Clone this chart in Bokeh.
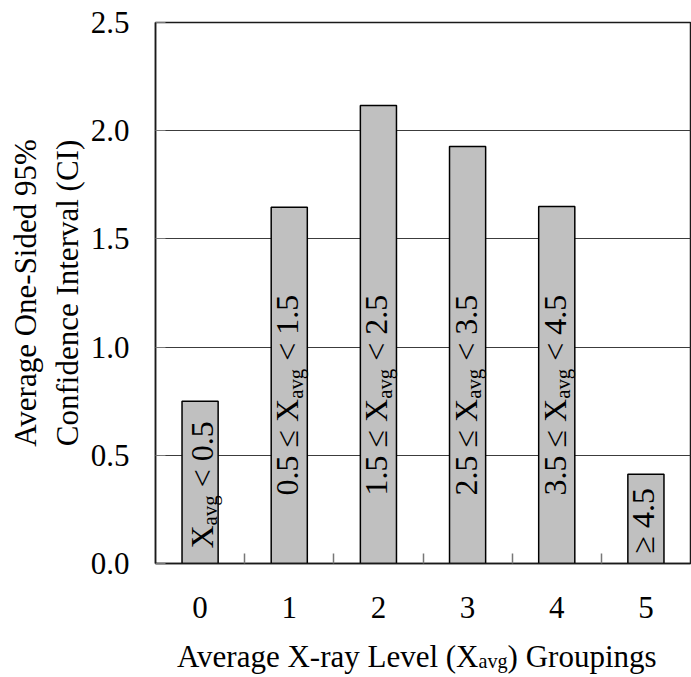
import math
from bokeh.plotting import figure
from bokeh.layouts import column
from bokeh.models import (ColumnDataSource, FixedTicker, LabelSet, Range1d,
                          PrintfTickFormatter)
from bokeh.embed import file_html
from bokeh.resources import INLINE
from bokeh.core.properties import value

# ---------------- data ----------------
groups = [0, 1, 2, 3, 4, 5]
x_tick_labels = ["0", "1", "2", "3", "4", "5"]
ci_values = [0.75, 1.646, 2.117, 1.927, 1.650, 0.413]
y_ticks = [0.0, 0.5, 1.0, 1.5, 2.0, 2.5]
bar_label_pre = ["X", "0.5 ≤ X", "1.5 ≤ X", "2.5 ≤ X", "3.5 ≤ X", "≥ 4.5"]
bar_label_sub = ["avg", "avg", "avg", "avg", "avg", ""]
bar_label_post = ["< 0.5", "< 1.5", "< 2.5", "< 3.5", "< 4.5", ""]
x_title_pre = "Average X-ray Level (X"
x_title_sub = "avg"
x_title_post = ") Groupings"
y_title = "Average One-Sided 95%\nConfidence Interval (CI)"

# ---------------- styling ----------------
FONT = "Liberation Serif"
TICK_PX = 31
BAR_PX = 32
SUB_RATIO = 0.65
TOTAL_W, TOTAL_H = 691, 677
TITLE_H = 47
BORDER_L, BORDER_R = 155, 1
# Times / Liberation Serif advance widths (per 1000 em)
W = {' ': 250, '.': 250, '<': 564, '≤': 549, '≥': 549, 'X': 722, 'a': 444, 'v': 500,
     'g': 500}
for d in "0123456789":
    W[d] = 500


def text_width(s, px):
    return sum(W.get(c, 500) for c in s) * px / 1000.0


label_start_px = [15, 68, 68, 68, 68, 10]   # distance of label start above bar base
label_shift_px = [12.5, 9, 9, 9, 9, 8]      # baseline shift right of bar centre

main_rows = dict(x=[], y=[], text=[], xo=[], yo=[])
sub_rows = dict(x=[], y=[], text=[], xo=[], yo=[])
sub_px = BAR_PX * SUB_RATIO
for i, g in enumerate(groups):
    start = label_start_px[i]
    pre = bar_label_pre[i]
    main_rows["x"].append(g); main_rows["y"].append(0)
    main_rows["text"].append(pre); main_rows["xo"].append(label_shift_px[i])
    main_rows["yo"].append(start)
    pos = start + text_width(pre, BAR_PX)
    if bar_label_sub[i]:
        sub_rows["x"].append(g); sub_rows["y"].append(0)
        sub_rows["text"].append(bar_label_sub[i])
        sub_rows["xo"].append(label_shift_px[i] + 4.5)
        sub_rows["yo"].append(pos)
        pos += text_width(bar_label_sub[i], sub_px)
    if bar_label_post[i]:
        pos += text_width(" ", BAR_PX)
        main_rows["x"].append(g); main_rows["y"].append(0)
        main_rows["text"].append(bar_label_post[i]); main_rows["xo"].append(label_shift_px[i])
        main_rows["yo"].append(pos)

main_h = TOTAL_H - TITLE_H
p = figure(width=TOTAL_W, height=main_h, output_backend="svg", toolbar_location=None,
           x_range=Range1d(-0.5, 5.5), y_range=Range1d(0, 2.5),
           min_border_left=BORDER_L, min_border_right=BORDER_R, min_border_top=22,
           min_border_bottom=main_h - 563)
p.background_fill_color = "white"
p.border_fill_color = "white"
p.outline_line_color = "#1a1a1a"
p.outline_line_width = 1.5

src = ColumnDataSource(dict(x=groups, top=ci_values))
p.vbar(x="x", top="top", bottom=0, width=0.405, source=src,
       fill_color="#c0c0c0", line_color="black", line_width=1.5)

# grid
p.xgrid.visible = False
p.ygrid.grid_line_color = "#3c3c3c"
p.ygrid.grid_line_width = 1
p.ygrid.ticker = FixedTicker(ticks=y_ticks)

# y axis
ya = p.yaxis[0]
ya.ticker = FixedTicker(ticks=y_ticks)
ya.formatter = PrintfTickFormatter(format="%.1f")
ya.major_tick_in = 10
ya.major_tick_out = 0
ya.minor_tick_line_color = None
ya.major_tick_line_color = "#777777"
ya.axis_line_color = "#1a1a1a"
ya.axis_line_width = 1.5
ya.major_label_text_font = FONT
ya.major_label_text_font_size = f"{TICK_PX}px"
ya.major_label_text_color = "black"
ya.major_label_standoff = 26
ya.axis_label = y_title
ya.axis_label_text_font = FONT
ya.axis_label_text_font_size = f"{TICK_PX}px"
ya.axis_label_text_font_style = "normal"
ya.axis_label_text_color = "black"
ya.axis_label_standoff = 3

# x axis
xa = p.xaxis[0]
xa.ticker = FixedTicker(ticks=groups, minor_ticks=[g + 0.5 for g in groups[:-1]])
xa.major_label_overrides = {g: t for g, t in zip(groups, x_tick_labels)}
xa.major_tick_in = 0
xa.major_tick_out = 0
xa.minor_tick_in = 10
xa.minor_tick_out = 0
xa.minor_tick_line_color = "#777777"
xa.minor_tick_line_width = 1.5
xa.axis_line_color = "#1a1a1a"
xa.axis_line_width = 1.5
xa.major_label_text_font = FONT
xa.major_label_text_font_size = f"{TICK_PX}px"
xa.major_label_text_color = "black"
xa.major_label_standoff = 33

# bar labels (rotated)
p.add_layout(LabelSet(x="x", y="y", text="text", x_offset="xo", y_offset="yo",
                      source=ColumnDataSource(main_rows), angle=math.pi / 2,
                      text_align="left", text_baseline="alphabetic",
                      text_font=value(FONT), text_font_size=f"{BAR_PX}px",
                      text_color="black"))
p.add_layout(LabelSet(x="x", y="y", text="text", x_offset="xo", y_offset="yo",
                      source=ColumnDataSource(sub_rows), angle=math.pi / 2,
                      text_align="left", text_baseline="alphabetic",
                      text_font=value(FONT), text_font_size=f"{sub_px:.1f}px",
                      text_color="black"))

# x axis title (with subscript) in a strip below the chart; its frame is aligned
# with the chart frame and its x range is in page pixels
t = figure(width=TOTAL_W, height=TITLE_H, output_backend="svg", toolbar_location=None,
           x_range=Range1d(BORDER_L, TOTAL_W - BORDER_R), y_range=Range1d(0, TITLE_H),
           min_border_left=BORDER_L, min_border_right=BORDER_R,
           min_border_top=0, min_border_bottom=0)
t.axis.visible = False
t.grid.visible = False
t.outline_line_color = None
t.background_fill_color = "white"
t.border_fill_color = "white"
P_X = 478
BASE = 21
sub_title_px = TICK_PX * SUB_RATIO
t.text(x=[P_X], y=[BASE], text=[x_title_pre], text_align="right",
       text_baseline="alphabetic", text_font=value(FONT),
       text_font_size=f"{TICK_PX}px", text_color="black")
t.text(x=[P_X], y=[BASE - 4.5], text=[x_title_sub], text_align="left",
       text_baseline="alphabetic", text_font=value(FONT),
       text_font_size=f"{sub_title_px:.1f}px", text_color="black")
t.text(x=[P_X + text_width(x_title_sub, sub_title_px)], y=[BASE], text=[x_title_post],
       text_align="left", text_baseline="alphabetic", text_font=value(FONT),
       text_font_size=f"{TICK_PX}px", text_color="black")

layout = column(p, t, spacing=0)
open("out.html", "w").write(file_html(layout, INLINE))
